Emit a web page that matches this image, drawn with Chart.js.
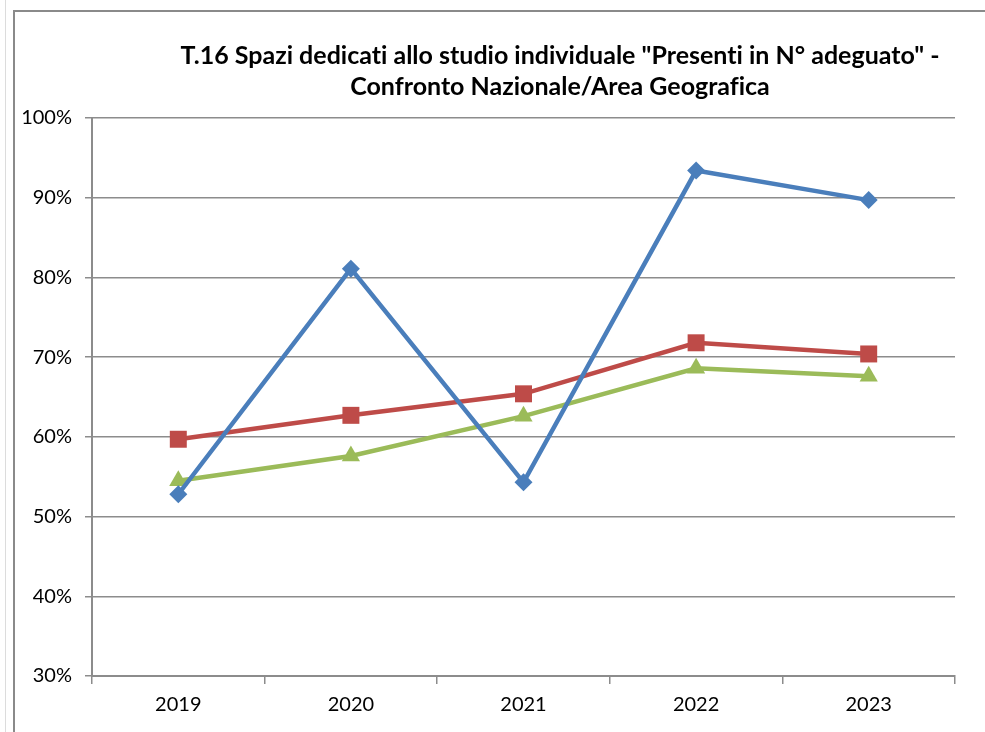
<!DOCTYPE html>
<html>
<head>
<meta charset="utf-8">
<script src="https://cdn.jsdelivr.net/npm/chart.js@4"></script>
<style>
  html, body { margin: 0; padding: 0; background: #fff; }
  #wrap { position: relative; width: 985px; height: 732px; overflow: hidden; }
  #chart { position: absolute; left: 0; top: 0; }
  .edge { position: absolute; left: 5px; top: 0; width: 1px; height: 732px; background: #dcdcdc; }
  .frame { position: absolute; left: 13px; top: 10px; width: 980px; height: 730px;
           border-top: 2px solid #8a8a8a; border-left: 2px solid #8a8a8a; }
  #title { position: absolute; left: 160px; width: 800px; top: 39px; text-align: center;
           font-family: Lato, "Open Sans", sans-serif; font-weight: bold; font-size: 25px;
           font-variant-ligatures: none; line-height: 31px; color: #000; }
</style>
</head>
<body>
<div id="wrap">
  <div class="edge"></div>
  <div class="frame"></div>
  <canvas id="chart" width="985" height="732"></canvas>
  <div id="title">T.16 Spazi dedicati allo studio individuale "Presenti in N° adeguato" -<br>Confronto Nazionale/Area Geografica</div>
</div>
<script>
// ================= DATA =================
const years = ["2019", "2020", "2021", "2022", "2023"];

const serieBlu = [52.8, 81.1, 54.3, 93.4, 89.7];
const serieRossa = [59.7, 62.7, 65.4, 71.8, 70.4];
const serieVerde = [54.5, 57.6, 62.6, 68.6, 67.6];

const yTicks = [30, 40, 50, 60, 70, 80, 90, 100];

// ================= CHART =================
const grey = "#8c8c8c";
const font = { family: "Lato, 'Open Sans', sans-serif", size: 20 };

new Chart(document.getElementById("chart"), {
  type: "line",
  data: {
    labels: years,
    datasets: [
      {
        label: "Blu",
        data: serieBlu,
        borderColor: "#4a7ebb",
        backgroundColor: "#4a7ebb",
        borderWidth: 4.5,
        pointStyle: "rectRot",
        pointRadius: 9,
        pointBorderWidth: 0,
        tension: 0
      },
      {
        label: "Rosso",
        data: serieRossa,
        borderColor: "#be4b48",
        backgroundColor: "#be4b48",
        borderWidth: 4.5,
        pointStyle: "rect",
        pointRadius: 12,
        pointBorderWidth: 0,
        tension: 0
      },
      {
        label: "Verde",
        data: serieVerde,
        borderColor: "#9bbb59",
        backgroundColor: "#9bbb59",
        borderWidth: 4.5,
        pointStyle: "triangle",
        pointRadius: 10.5,
        pointBorderWidth: 0,
        tension: 0
      }
    ]
  },
  options: {
    responsive: false,
    animation: false,
    layout: { padding: { left: 0, right: 30, top: 118, bottom: 0 } },
    plugins: {
      legend: { display: false },
      tooltip: { enabled: false }
    },
    scales: {
      x: {
        offset: true,
        grid: {
          offset: true,
          drawOnChartArea: false,
          drawTicks: true,
          tickLength: 8,
          color: grey,
          lineWidth: 1.5
        },
        border: { display: true, color: grey, width: 2 },
        ticks: { color: "#000", font, padding: 9 },
        afterFit(scale) { scale.height = 56; }
      },
      y: {
        min: 30,
        max: 100,
        afterBuildTicks(scale) { scale.ticks = yTicks.map(v => ({ value: v })); },
        grid: {
          color: grey,
          lineWidth: 1.5,
          tickLength: 7
        },
        border: { display: true, color: grey, width: 2 },
        ticks: {
          color: "#000",
          font,
          padding: 13,
          callback: v => v + "%"
        },
        afterFit(scale) { scale.width = 92; }
      }
    }
  }
});
</script>
</body>
</html>
